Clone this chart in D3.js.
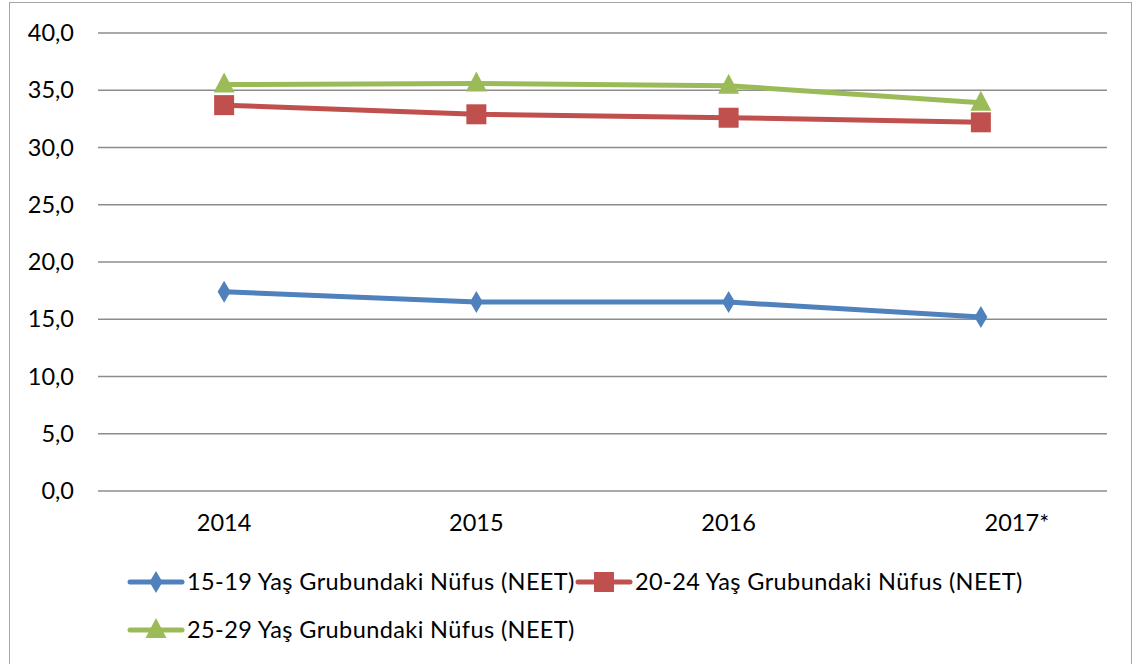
<!DOCTYPE html>
<html>
<head>
<meta charset="utf-8">
<script src="https://cdn.jsdelivr.net/npm/d3@7"></script>
<style>
  body { margin: 0; background: #fff; }
  svg text { font-family: Lato, "Open Sans", sans-serif; fill: #000; }
</style>
</head>
<body>
<div id="chart"></div>
<script>
var years = ["2014", "2015", "2016", "2017*"]
var yTicks = [0, 5, 10, 15, 20, 25, 30, 35, 40]
var seriesNames = ["15-19 Yaş Grubundaki Nüfus (NEET)", "20-24 Yaş Grubundaki Nüfus (NEET)", "25-29 Yaş Grubundaki Nüfus (NEET)"]
var v1519 = [17.4, 16.5, 16.5, 15.2]
var v2024 = [33.7, 32.9, 32.6, 32.2]
var v2529 = [35.5, 35.6, 35.4, 33.9]
var colors = ["#4F81BD", "#C0504D", "#9BBB59"]
var shapes = ["diamond", "square", "triangle"]

var width = 1136, height = 664
var plot = {left: 98, right: 1107, top: 33, bottom: 491}
var fontSize = 23.5

var svg = d3.select("#chart").append("svg")
    .attr("width", width)
    .attr("height", height)

// outer frame
svg.append("rect")
    .attr("x", 9.5).attr("y", 2.5)
    .attr("width", 1122).attr("height", 670)
    .attr("fill", "none")
    .attr("stroke", "#a6a6a6")
    .attr("stroke-width", 1)

var x = d3.scalePoint()
    .domain(years)
    .range([plot.left, plot.right])
    .padding(0.5)

var y = d3.scaleLinear()
    .domain([0, 40])
    .range([plot.bottom, plot.top])

// gridlines
svg.append("g")
    .selectAll("line")
    .data(yTicks)
    .enter()
    .append("line")
    .attr("x1", plot.left).attr("x2", plot.right)
    .attr("y1", function (d) { return y(d) })
    .attr("y2", function (d) { return y(d) })
    .attr("stroke", "#8c8c8c")
    .attr("stroke-width", 1.5)

// y labels
svg.append("g")
    .selectAll("text")
    .data(yTicks)
    .enter()
    .append("text")
    .attr("x", 74)
    .attr("y", function (d) { return y(d) })
    .attr("dy", "0.35em")
    .attr("text-anchor", "end")
    .attr("font-size", fontSize)
    .text(function (d) { return d3.format(".1f")(d).replace(".", ",") })

// x labels (last one sits a bit right of its tick, like the original)
svg.append("g")
    .selectAll("text")
    .data(years)
    .enter()
    .append("text")
    .attr("x", function (d, i) { return x(d) + (i === years.length - 1 ? 36 : 0) })
    .attr("y", 523)
    .attr("dy", "0.35em")
    .attr("text-anchor", "middle")
    .attr("font-size", fontSize)
    .text(function (d) { return d })

function markerPath(shape) {
    if (shape === "diamond") return "M0,-11L6.5,0L0,11L-6.5,0Z"
    if (shape === "square") return "M-10,-10H10V10H-10Z"
    return "M0,-12L10.5,8H-10.5Z"
}

var allSeries = [v1519, v2024, v2529]
var line = d3.line()
    .x(function (d, i) { return x(years[i]) })
    .y(function (d) { return y(d) })

// draw blue, red, green so green is on top
allSeries.forEach(function (vals, s) {
    var g = svg.append("g")
    g.append("path")
        .datum(vals)
        .attr("d", line)
        .attr("fill", "none")
        .attr("stroke", colors[s])
        .attr("stroke-width", 5)
        .attr("stroke-linejoin", "round")
    g.selectAll("path.m")
        .data(vals)
        .enter()
        .append("path")
        .attr("class", "m")
        .attr("d", markerPath(shapes[s]))
        .attr("transform", function (d, i) { return "translate(" + x(years[i]) + "," + y(d) + ")" })
        .attr("fill", colors[s])
})

// legend
var legendPos = [[130, 582], [578, 582], [130, 630]]
seriesNames.forEach(function (name, s) {
    var lx = legendPos[s][0], ly = legendPos[s][1]
    var g = svg.append("g").attr("transform", "translate(" + lx + "," + ly + ")")
    g.append("line")
        .attr("x1", 0).attr("x2", 52)
        .attr("y1", 0).attr("y2", 0)
        .attr("stroke", colors[s])
        .attr("stroke-width", 5)
        .attr("stroke-linecap", "round")
    g.append("path")
        .attr("d", markerPath(shapes[s]))
        .attr("transform", "translate(26,0)")
        .attr("fill", colors[s])
    g.append("text")
        .attr("x", 57)
        .attr("y", 0)
        .attr("dy", "0.35em")
        .attr("font-size", fontSize)
        .attr("letter-spacing", 0.4)
        .text(name)
})
</script>
</body>
</html>
